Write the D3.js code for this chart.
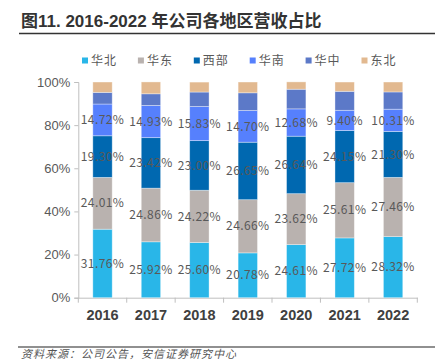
<!DOCTYPE html>
<html><head><meta charset="utf-8">
<script src="https://cdn.jsdelivr.net/npm/d3@7"></script>
<style>body{margin:0;background:#fff}svg{display:block}</style>
</head><body><svg id="c" width="436" height="360"></svg>
<script>
const years = ["2016","2017","2018","2019","2020","2021","2022"];
const seriesNames = ["华北","华东","西部","华南","华中","东北"];
const huabei = [31.76,25.92,25.60,20.78,24.61,27.72,28.32];
const huadong = [24.01,24.86,24.22,24.66,23.62,25.61,27.46];
const xibu = [19.30,23.42,23.00,26.65,26.64,24.15,21.30];
const huanan = [14.72,14.93,15.83,14.70,12.68,9.40,10.31];
const huazhong = [5.4,5.4,6.7,8.2,9.1,8.8,8.0];
const dongbei = [4.8,5.5,4.6,5.0,3.4,4.3,4.6];
const labeled = [true,true,true,true,false,false];
const colors = ["#29B6E8","#B9B2AF","#0068B0","#5680FD","#5C79C8","#E2B990"];
const yTicks = [0,20,40,60,80,100];

const allSeries = [huabei,huadong,xibu,huanan,huazhong,dongbei];
const table = years.map((y,i)=>{const o={year:y};seriesNames.forEach((n,k)=>o[n]=allSeries[k][i]);return o;});
const stacked = d3.stack().keys(seriesNames)(table);

const svg = d3.select("#c");
// title
svg.append("text").attr("x",21).attr("y",27).attr("font-family","Liberation Sans, Noto Sans CJK SC, sans-serif")
  .attr("font-weight","bold").attr("font-size",17).attr("fill","#333").text("图11. 2016-2022 年公司各地区营收占比");
svg.append("line").attr("x1",19).attr("x2",435).attr("y1",33.5).attr("y2",33.5).attr("stroke","#333").attr("stroke-width",1.5);

const x = d3.scaleBand().domain(years).range([78.3,417.3]).paddingInner(0.6).paddingOuter(0.3);
const y = d3.scaleLinear().domain([0,100]).range([297.7,82]);

// axes
const gy = svg.append("g").attr("transform","translate(78.3,0)")
  .call(d3.axisLeft(y).tickValues(yTicks).tickFormat(d=>d+"%").tickSize(4).tickPadding(4));
gy.select(".domain").attr("stroke","#BFBFBF");
gy.selectAll(".tick line").attr("stroke","#BFBFBF");
gy.selectAll("text").attr("font-family","Liberation Sans, sans-serif").attr("font-size",13).attr("fill","#595959");

const gx = svg.append("g").attr("transform","translate(0,297.7)")
  .call(d3.axisBottom(x).tickSize(0).tickPadding(12));
gx.select(".domain").attr("stroke","#BFBFBF");
gx.selectAll("text").attr("font-family","Liberation Sans, sans-serif").attr("font-size",14.5).attr("fill","#404040").attr("font-weight","bold");
// boundary ticks
const step = x.step();
const bounds = d3.range(years.length+1).map(i=>78.3+i*step);
gx.selectAll(".bt").data(bounds).enter().append("line")
  .attr("x1",d=>d).attr("x2",d=>d).attr("y1",0).attr("y2",5).attr("stroke","#BFBFBF");

// bars
stacked.forEach((layer,k)=>{
  const g = svg.append("g").attr("fill",colors[k]);
  g.selectAll("rect").data(layer).enter().append("rect")
    .attr("x",d=>x(d.data.year)).attr("width",x.bandwidth())
    .attr("y",d=>y(d[1])).attr("height",d=>y(d[0])-y(d[1]))
    .attr("stroke","#ffffff").attr("stroke-opacity",0.45).attr("stroke-width",0.8);
});
stacked.forEach((layer,k)=>{
  if(!labeled[k]) return;
  svg.append("g").selectAll("text").data(layer).enter().append("text")
    .attr("x",d=>x(d.data.year)+x.bandwidth()/2).attr("y",d=>y((d[0]+d[1])/2))
    .attr("dy","0.35em").attr("text-anchor","middle")
    .attr("font-family","Noto Sans CJK SC, sans-serif").attr("font-size",12).attr("letter-spacing",0.4)
    .attr("fill","#595959").text(d=>(d[1]-d[0]).toFixed(2)+"%");
});

// legend
const lg = svg.append("g");
seriesNames.forEach((n,k)=>{
  const lx = 82 + k*55.9;
  lg.append("rect").attr("x",lx).attr("y",57.5).attr("width",6).attr("height",6).attr("fill",colors[k]);
  lg.append("text").attr("x",lx+9).attr("y",61).attr("dy","0.35em").attr("font-family","Noto Sans CJK SC, sans-serif")
    .attr("font-size",12).attr("letter-spacing",1).attr("fill","#595959").text(n);
});

// footer
svg.append("line").attr("x1",18).attr("x2",435).attr("y1",347).attr("y2",347).attr("stroke","#222").attr("stroke-width",1.2);
svg.append("text").attr("x",21).attr("y",358).attr("font-family","Noto Sans CJK SC, sans-serif").attr("font-size",11)
  .attr("font-style","italic").attr("fill","#555").attr("letter-spacing",1).text("资料来源：公司公告，安信证券研究中心");
</script></body></html>
